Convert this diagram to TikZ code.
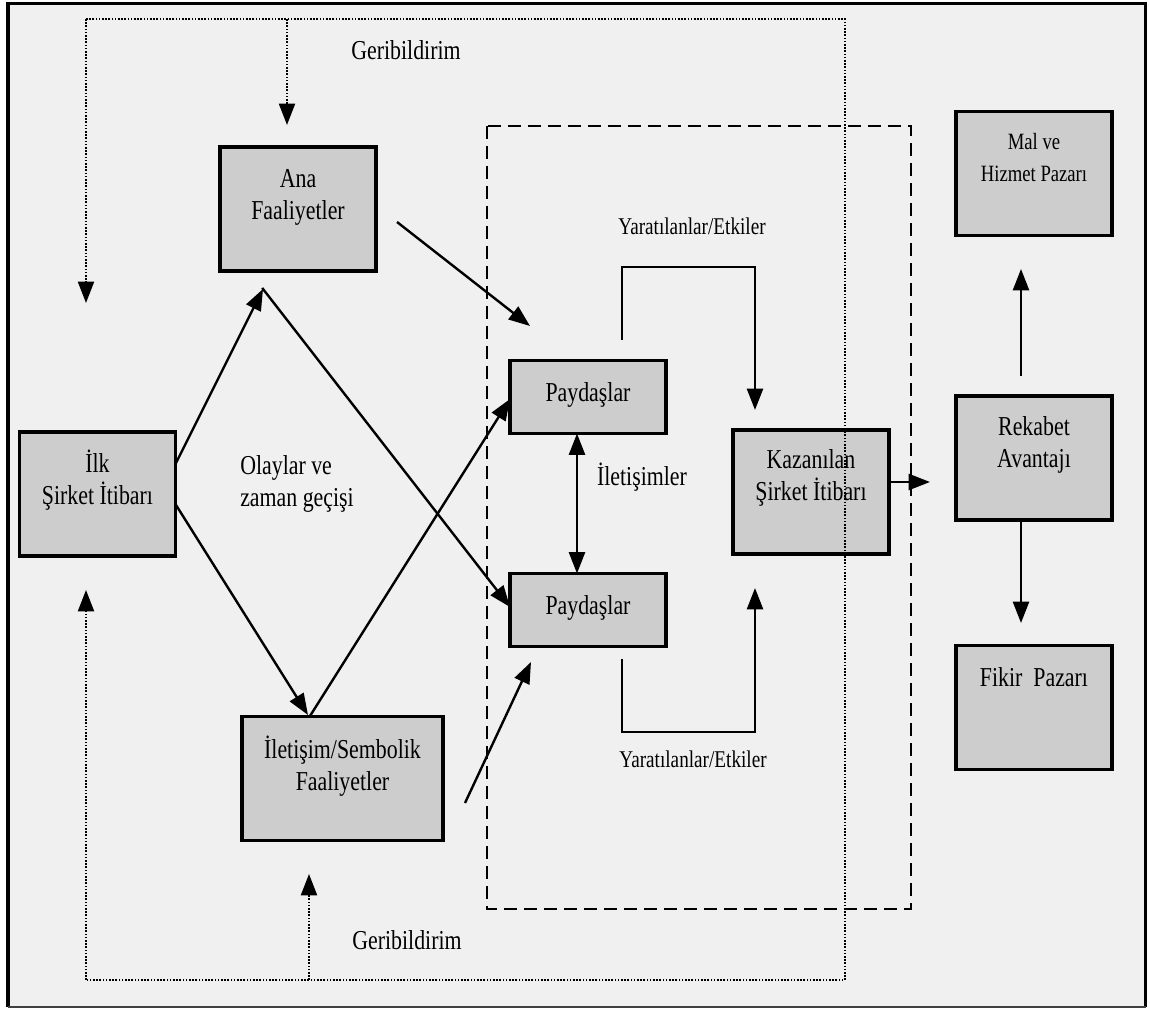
\documentclass[tikz,border=0pt]{standalone}
\usepackage{fontspec}
\setmainfont{Liberation Serif}[FakeStretch=0.8]
\usetikzlibrary{arrows.meta,calc}

\definecolor{pagebg}{HTML}{F0F0F0}
\definecolor{boxfill}{HTML}{CDCDCD}

\begin{document}
\begin{tikzpicture}[x=0.75pt,y=-0.75pt,
  headtip/.style={-{Triangle[length=16pt,width=12pt]}},
  flow/.style={line width=1.8pt, headtip},
  twoway/.style={line width=1.8pt, {Triangle[length=16pt,width=12pt]}-{Triangle[length=16pt,width=12pt]}},
  fbline/.style={line width=1.5pt, dash pattern=on 1.2pt off 1.2pt},
  fbarrow/.style={fbline, headtip},
  zone/.style={line width=2.2pt, dash pattern=on 9.5pt off 5.5pt},
  box/.style={draw=black, fill=boxfill, line width=2.4pt, inner sep=0pt, outer sep=0pt,
    minimum width=117pt, minimum height=93pt},
  smallbox/.style={box, minimum height=54.75pt},
  widebox/.style={box, minimum width=150.75pt},
  txt/.style={font=\fontsize{20.5}{24}\selectfont, align=center, inner sep=0pt},
  smalltxt/.style={font=\fontsize{18}{24}\selectfont, align=center, inner sep=0pt},
  marktxt/.style={font=\fontsize{17.5}{24}\selectfont, align=center, inner sep=0pt}
]
\useasboundingbox (0,0) rectangle (1150,1009);
\fill[white] (0,0) rectangle (1150,1009);

% frame
\fill[pagebg] (8,3.5) rectangle (1145.5,1007);
\draw[line width=2.6pt] (8,1007) -- (8,3.5) -- (1145.5,3.5) -- (1145.5,1007);
\draw[line width=1.4pt, black!75] (8,1007) -- (1145.5,1007);

% stakeholder zone
\draw[zone] (487,126) rectangle (911,909);

% boxes
\node[box, label={[txt,yshift=9pt]center:{Ana\\Faaliyetler}}] (ana) at (298,209) {};
\node[box, label={[txt,yshift=10.5pt]center:{İlk\\Şirket İtibarı}}] (ilk) at (97.5,494) {};
\node[widebox, label={[txt,yshift=9pt]center:{İletişim/Sembolik\\Faaliyetler}}] (ilet) at (342.5,778.5) {};
\node[smallbox, label={[txt,yshift=1.5pt]center:{Paydaşlar}}] (pay1) at (588,397) {};
\node[smallbox, label={[txt,yshift=1.5pt]center:{Paydaşlar}}] (pay2) at (588,610) {};
\node[box, label={[txt,yshift=10.5pt]center:{Kazanılan\\Şirket İtibarı}}] (kaz) at (811,492) {};
\node[box, label={[marktxt,yshift=12pt]center:{Mal ve\\Hizmet Pazarı}}] (mal) at (1034,173.5) {};
\node[box, label={[txt,yshift=10pt]center:{Rekabet\\Avantajı}}] (rek) at (1034,458) {};
\node[box, label={[txt,yshift=22.5pt]center:{Fikir\ \ Pazarı}}] (fikir) at (1034,707.5) {};

% free labels
\node[txt] (geriTop) at (406,50) {Geribildirim};
\node[txt] (geriBot) at (407,940) {Geribildirim};
\node[smalltxt] (yarTop) at (692,226) {Yaratılanlar/Etkiler};
\node[smalltxt] (yarBot) at (693,759) {Yaratılanlar/Etkiler};
\node[txt] (iletm) at (642,477) {İletişimler};
\node[txt, align=left, anchor=west] (olay) at (240,484) {Olaylar ve\\zaman geçişi};

% free arrow ends
\coordinate (anaOut) at (397,222);
\coordinate (pay1In) at (530,326);
\coordinate (anaIn) at (263,289);
\coordinate (iletOut) at (465,803);
\coordinate (pay2In) at (531,662);
\coordinate (ilkUp) at (176,463);
\coordinate (ilkDown) at (176,505);
\coordinate (iletTop) at (308,715);
\coordinate (iletFrom) at (310,716);
\coordinate (upOut) at (622,340);
\coordinate (upCorner) at (755,267);
\coordinate (kazInTop) at (755,410);
\coordinate (downOut) at (622,659);
\coordinate (downCorner) at (755,732);
\coordinate (kazInBot) at (755,588);
\coordinate (rekIn) at (930,482);
\coordinate (rekUp) at (1021,376);
\coordinate (malIn) at (1021,269);
\coordinate (fikirIn) at (1021,623);

% main flows
\draw[flow] (anaOut) -- (pay1In);
\draw[flow] (ilkUp) -- (anaIn);
\draw[flow, shorten <=-1pt] (anaIn) -- ([yshift=2.25pt]pay2.west);
\draw[flow] (ilkDown) -- (iletTop);
\draw[flow] (iletFrom) -- ([yshift=-1.5pt]pay1.west);
\draw[flow] (iletOut) -- (pay2In);
\draw[twoway] ([xshift=-8.25pt]pay1.south) -- ([xshift=-8.25pt]pay2.north);
\draw[flow] (upOut) |- (upCorner) -- (kazInTop);
\draw[flow] (downOut) |- (downCorner) -- (kazInBot);
\draw[flow] ([yshift=7.5pt]kaz.east) -- (rekIn);
\draw[flow] (rekUp) -- (malIn);
\draw[flow] ([xshift=-9.75pt]rek.south) -- (fikirIn);

% feedback loop
\coordinate (fbTL) at (86,19);
\coordinate (fbTR) at (845,19);
\coordinate (fbBR) at (845,980);
\coordinate (fbBL) at (86,980);
\coordinate (fbTopMid) at (287,19);
\coordinate (fbBotMid) at (309,980);
\coordinate (ilkTopIn) at (86,303);
\coordinate (ilkBotIn) at (86,590);
\coordinate (anaTopIn) at (287,125);
\coordinate (iletBotIn) at (309,874);
\draw[fbline] (fbTL) -- (fbTR) -- (fbBR) -- (fbBL);
\draw[fbarrow] (fbTL) -- (ilkTopIn);
\draw[fbarrow] (fbBL) -- (ilkBotIn);
\draw[fbarrow] (fbTopMid) -- (anaTopIn);
\draw[fbarrow] (fbBotMid) -- (iletBotIn);
\end{tikzpicture}
\end{document}
